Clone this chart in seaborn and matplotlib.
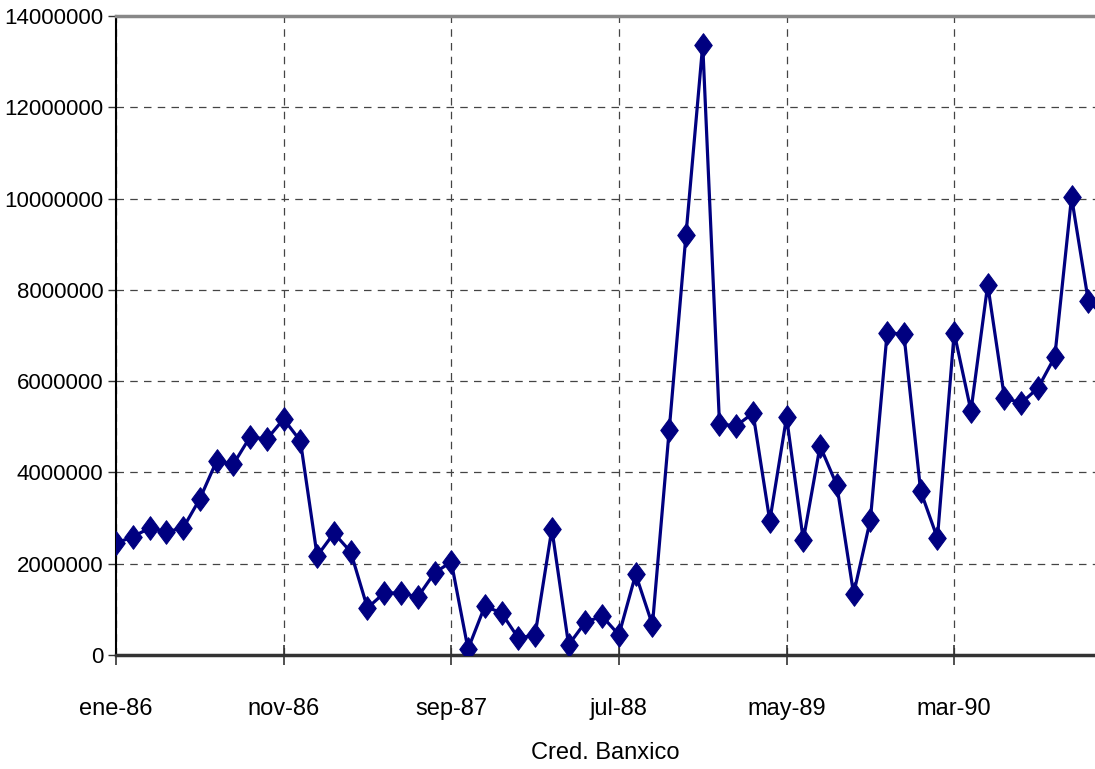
import matplotlib
matplotlib.use("Agg")
import matplotlib.pyplot as plt
from matplotlib.path import Path
import seaborn as sns
import pandas as pd
import numpy as np

# Monthly values starting ene-86
values = [2450000, 2590000, 2780000, 2700000, 2780000, 3420000, 4250000, 4180000,
          4780000, 4730000, 5170000, 4690000, 2170000, 2670000, 2260000, 1030000,
          1360000, 1360000, 1270000, 1800000, 2040000, 130000, 1070000, 920000,
          370000, 440000, 2760000, 220000, 720000, 850000, 440000, 1770000,
          660000, 4930000, 9200000, 13370000, 5060000, 5020000, 5300000, 2940000,
          5210000, 2520000, 4580000, 3720000, 1340000, 2960000, 7060000, 7030000,
          3590000, 2560000, 7060000, 5350000, 8110000, 5630000, 5520000, 5850000,
          6530000, 10030000, 7760000, 7400000]
tick_labels = ["ene-86", "nov-86", "sep-87", "jul-88", "may-89", "mar-90"]
y_ticks = [0, 2000000, 4000000, 6000000, 8000000, 10000000, 12000000, 14000000]
x_label = "Cred. Banxico"

df = pd.DataFrame({"mes": np.arange(len(values)), "valor": values})

sns.set_style("white")
plt.rcParams['font.family'] = ['Liberation Sans Narrow', 'Liberation Sans', 'DejaVu Sans']
plt.rcParams['text.color'] = 'black'

fig = plt.figure(figsize=(10.95, 7.69), dpi=100)
ax = fig.add_axes([116/1095, (769-655)/769, 1 - 116/1095, (655-16)/769])

diamond = Path([(0, 1), (0.74, 0), (0, -1), (-0.74, 0), (0, 1)],
               [Path.MOVETO, Path.LINETO, Path.LINETO, Path.LINETO, Path.CLOSEPOLY])

sns.lineplot(data=df, x="mes", y="valor", ax=ax, color="#000080", linewidth=2.3,
             marker=diamond, markersize=17, markeredgecolor="#000080",
             markerfacecolor="#000080", zorder=5, clip_on=True)

ax.set_xlim(0, 58.4)
ax.set_ylim(0, 14000000)
ax.set_xticks(np.arange(0, 60, 10))
ax.set_xticklabels(tick_labels)
ax.set_yticks(y_ticks)
ax.set_yticklabels([str(v) for v in y_ticks])

ax.grid(True, which="major", axis="both", linestyle=(0, (6, 5)), color="#444444", linewidth=0.9)

ax.spines["right"].set_visible(False)
ax.spines["top"].set_color("#888888")
ax.spines["top"].set_linewidth(2.5)
ax.spines["left"].set_color("#000000")
ax.spines["left"].set_linewidth(1.5)
ax.spines["bottom"].set_color("#333333")
ax.spines["bottom"].set_linewidth(2.5)

ax.tick_params(axis="x", direction="inout", length=14, width=1.2, color="#333333",
               labelsize=17, pad=24, bottom=True, labelcolor="black")
ax.tick_params(axis="y", direction="out", length=6, width=1, color="#333333",
               labelsize=16, pad=3, left=True, labelcolor="black")

ax.set_xlabel(x_label, fontsize=17, labelpad=16, color="black")
ax.set_ylabel("")

fig.savefig("out.png", dpi=100)
